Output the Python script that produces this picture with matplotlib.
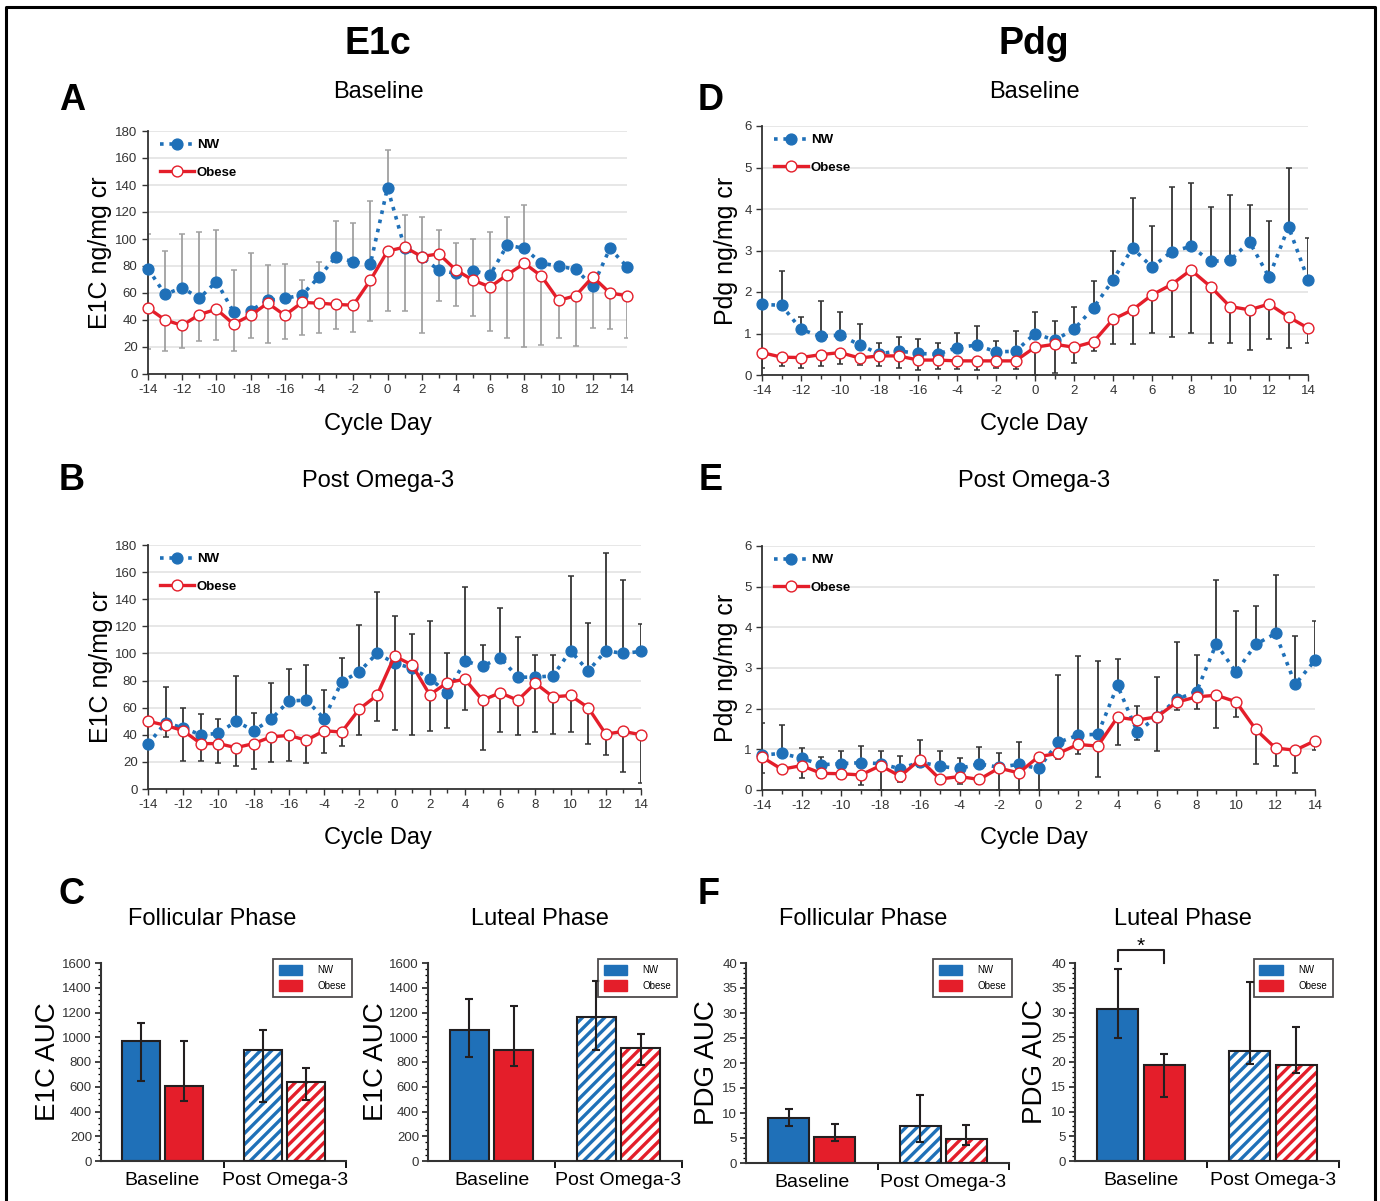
import matplotlib
matplotlib.use("Agg")
import matplotlib.pyplot as plt
import numpy as np
from matplotlib.lines import Line2D
from matplotlib.patches import Patch
from matplotlib.ticker import MultipleLocator

plt.rcParams["font.family"] = ["Liberation Sans", "DejaVu Sans"]
plt.rcParams["hatch.linewidth"] = 2.4

BLUE = "#1f70b8"
RED = "#e41e2a"
DARK = "#231f20"
W, H = 1380, 1201

DAYS = list(range(-14, 15))
DAY_TICKS = list(range(-14, 15, 2))
# the original figure mislabels -8 / -6 as -18 / -16
DAY_LABELS = ["-14", "-12", "-10", "-18", "-16", "-4", "-2", "0",
              "2", "4", "6", "8", "10", "12", "14"]

# A: E1c baseline (NW error ends point up, obese error ends point down)
e1c_base_nw = [78, 59, 64, 56, 68.5, 46, 47, 54.5, 56, 58.5, 72, 87, 83, 81.5, 138,
               93.5, 86.5, 77, 74.5, 76.5, 73.5, 95.5, 93, 82, 80, 77.5, 65, 93, 79.5]
e1c_base_nw_top = [104, 91, 104, 105.5, 106.5, 77, 89.5, 81, 81.5, 69.5, 83, 113.5, 112, 128.5, 166,
                   117.5, 116, 106.5, 97, 100, 105, 116.5, 125, None, None, None, None, None, None]
e1c_base_ob = [49, 40, 36, 44, 48, 37, 43.5, 52.5, 43.5, 53, 52.5, 51.5, 51, 69.5, 91,
               94, 87, 89, 77, 69.5, 64.5, 73.5, 82, 72.5, 54.5, 58, 72, 60, 58]
e1c_base_ob_bot = [18.5, 16.7, 19, 24.5, 25.5, 17.2, 26.5, 23.3, 25.8, 28.7, 30.2, 33, 31, 39.3, 47,
                   47, 30.7, 54.3, 50.6, 42.7, 32.2, 26.3, 20, 21.4, 26.3, 20.4, 33.8, 33.6, 27]

# B: E1c post omega-3
e1c_post_nw = [33, 49, 45, 40, 41, 50, 43, 51.5, 65, 65.5, 52, 79, 86.5, 100, 93,
               89, 81.5, 71, 94.5, 90.5, 97, 82.5, 82.5, 83.5, 102, 87, 102, 100, 101.5]
e1c_post_nw_top = [None, 75.5, 60, 55.5, 51.5, 83, 56, 78, 88.5, 91.5, 73, 96.5, 121, 145, 127.5,
                   114, 124, 100, 149, 106.5, 133.5, 112.5, 99, 98.5, 157.5, 122.5, 174, 154, 121.5]
e1c_post_ob = [50, 47, 43, 33.5, 33.5, 30.5, 33.5, 38.5, 39.5, 36, 43, 42, 59, 69, 98,
               91.5, 69.5, 78.5, 81, 65.5, 71, 65.5, 78, 68, 69, 60, 40.5, 42.5, 40]
e1c_post_ob_bot = [None, 38.3, 20.4, 20.4, 19, 16.7, 14.5, 20, 21, 19, 26.7, 31.5, 40, 50.3, 43.5,
                   40, 42.5, 45, 58, 28.7, 42, 39.7, 42, 40.7, 41.7, 33, 25, 12.3, 4.2]

# D: Pdg baseline
pdg_base_nw = [1.7, 1.68, 1.1, 0.93, 0.96, 0.73, 0.51, 0.58, 0.52, 0.5, 0.66, 0.72, 0.56, 0.57, 1.0,
               0.84, 1.1, 1.62, 2.29, 3.06, 2.6, 2.97, 3.1, 2.74, 2.76, 3.21, 2.36, 3.57, 2.3]
pdg_base_nw_top = [None, 2.51, 1.39, 1.78, 1.52, 1.22, 0.76, 0.91, 0.86, 0.78, 1.01, 1.17, 0.82, 1.05, 1.51,
                   1.29, 1.63, 2.27, 2.99, 4.26, 3.59, 4.53, 4.62, 4.06, 4.33, 4.1, 3.7, 5.0, 3.3]
pdg_base_ob = [0.54, 0.43, 0.42, 0.49, 0.54, 0.41, 0.46, 0.46, 0.36, 0.36, 0.34, 0.34, 0.34, 0.34, 0.67,
               0.74, 0.67, 0.8, 1.34, 1.57, 1.93, 2.18, 2.53, 2.13, 1.65, 1.57, 1.71, 1.4, 1.13]
pdg_base_ob_bot = [0.18, 0.21, 0.16, 0.21, 0.26, 0.24, 0.21, 0.18, 0.11, 0.14, 0.15, 0.13, 0.16, 0.15, 0.0,
                   0.06, 0.3, 0.58, 0.74, 0.75, 1.01, 0.92, 1.02, 0.78, 0.76, 0.6, 0.86, 0.65, 0.78]

# E: Pdg post omega-3
pdg_post_nw = [0.86, 0.9, 0.78, 0.62, 0.65, 0.67, 0.65, 0.52, 0.69, 0.58, 0.53, 0.64, 0.56, 0.63, 0.53,
               1.17, 1.35, 1.37, 2.57, 1.43, 1.8, 2.23, 2.42, 3.59, 2.9, 3.58, 3.85, 2.6, 3.19]
pdg_post_nw_top = [1.64, 1.59, 1.04, 0.8, 0.95, 1.07, 0.97, 0.83, 1.22, 0.97, 0.78, 1.06, 0.92, 1.17, None,
                   2.84, 3.29, 3.17, 3.22, 2.07, 2.77, 3.65, 3.33, 5.16, 4.39, 4.53, 5.28, 3.79, 4.16]
pdg_post_ob = [0.81, 0.51, 0.6, 0.41, 0.4, 0.37, 0.6, 0.34, 0.75, 0.27, 0.33, 0.26, 0.54, 0.42, 0.82,
               0.9, 1.12, 1.08, 1.79, 1.72, 1.8, 2.16, 2.29, 2.33, 2.17, 1.49, 1.03, 0.98, 1.21]
pdg_post_ob_bot = [0.43, 0.49, 0.29, 0.29, 0.27, 0.13, 0.0, 0.2, 0.56, 0.15, 0.15, 0.14, 0.0, 0.0, 0.0,
                   0.76, 0.88, 0.32, 1.1, 1.22, 0.96, 1.96, 1.99, 1.52, 1.8, 0.65, 0.59, 0.42, 0.99]

# C / F: AUC bars, [Baseline, Post Omega-3]
GROUPS = ["Baseline", "Post Omega-3"]
e1c_fol_nw, e1c_fol_nw_lo, e1c_fol_nw_hi = [970, 901], [648, 479], [1119, 1062]
e1c_fol_ob, e1c_fol_ob_lo, e1c_fol_ob_hi = [610, 637], [484, 489], [968, 750]
e1c_lut_nw, e1c_lut_nw_lo, e1c_lut_nw_hi = [1057, 1162], [839, 898], [1307, 1452]
e1c_lut_ob, e1c_lut_ob_lo, e1c_lut_ob_hi = [898, 917], [769, 777], [1253, 1030]
pdg_fol_nw, pdg_fol_nw_lo, pdg_fol_nw_hi = [9.0, 7.5], [7.5, 4.3], [10.9, 13.7]
pdg_fol_ob, pdg_fol_ob_lo, pdg_fol_ob_hi = [5.3, 4.9], [4.5, 3.6], [7.8, 7.7]
pdg_lut_nw, pdg_lut_nw_lo, pdg_lut_nw_hi = [30.7, 22.3], [24.8, 19.6], [38.7, 36.2]
pdg_lut_ob, pdg_lut_ob_lo, pdg_lut_ob_hi = [19.3, 19.4], [13.0, 17.7], [21.6, 27.1]


def px_axes(fig, left, top, right, bottom):
    return fig.add_axes([left / W, 1 - bottom / H, (right - left) / W, (bottom - top) / H])


def px_text(fig, x, y, s, **kw):
    fig.text(x / W, 1 - y / H, s, ha="center", va="center", **kw)


def place_ylabel(ax, text, size, center_px):
    # ylabel anchor sits on the right edge of the rotated text; shift from glyph centre
    ax.set_ylabel(text, fontsize=size)
    pos = ax.get_position()
    anchor = center_px + 0.42 * size * 100 / 72
    ax.yaxis.set_label_coords((anchor / W - pos.x0) / pos.width, 0.5)


def one_sided_errors(ax, values, ends, color):
    v = np.array(values, float)
    e = np.array([np.nan if x is None else x for x in ends], float)
    ok = ~np.isnan(e)
    lo = np.clip(v[ok] - e[ok], 0, None)
    hi = np.clip(e[ok] - v[ok], 0, None)
    ax.errorbar(np.array(DAYS)[ok], v[ok], yerr=[lo, hi], fmt="none", ecolor=color,
                elinewidth=1.3, capsize=2.5, capthick=1.1, zorder=1)


def line_panel(ax, nw, nw_top, ob, ob_bot, ymax, ystep, err_color, ylabel, label_px):
    one_sided_errors(ax, nw, nw_top, err_color)
    one_sided_errors(ax, ob, ob_bot, err_color)
    ax.plot(DAYS, nw, color=BLUE, linestyle=(0, (1, 1.6)), lw=2.6, marker="o", ms=7.8,
            mfc=BLUE, mec=BLUE, zorder=3, label="NW", clip_on=False)
    ax.plot(DAYS, ob, color=RED, lw=2.4, marker="o", ms=7.8, mfc="white", mec=RED,
            mew=1.0, zorder=4, label="Obese", clip_on=False)
    ax.set_xlim(-14, 14)
    ax.set_ylim(0, ymax)
    ax.set_xticks(DAY_TICKS)
    ax.set_xticklabels(DAY_LABELS)
    ax.xaxis.set_minor_locator(MultipleLocator(1))
    ax.yaxis.set_major_locator(MultipleLocator(ystep))
    ax.tick_params(axis="both", labelsize=9.5, colors="#333333", length=4, width=1)
    ax.tick_params(axis="x", which="minor", length=3, width=1, color="#333333")
    ax.grid(axis="y", color="#e3e3e3", lw=1.2)
    ax.set_axisbelow(True)
    for side in ("top", "right"):
        ax.spines[side].set_visible(False)
    for side in ("left", "bottom"):
        ax.spines[side].set_color("#333333")
        ax.spines[side].set_linewidth(1.3)
    place_ylabel(ax, ylabel, 18, label_px)
    ax.legend(loc="upper left", bbox_to_anchor=(0.0, 1.015), frameon=False,
              handlelength=2.6, labelspacing=1.15, prop={"weight": "bold", "size": 9.5},
              handletextpad=0.2)


def bar_panel(ax, nw, nw_lo, nw_hi, ob, ob_lo, ob_hi, ymax, major, minor, ylabel, label_px, leg_x):
    x = np.arange(len(GROUPS))
    w, off = 0.31, 0.175
    for i in x:
        for val, lo, hi, color, pos in ((nw[i], nw_lo[i], nw_hi[i], BLUE, i - off),
                                        (ob[i], ob_lo[i], ob_hi[i], RED, i + off)):
            if i == 0:
                ax.bar(pos, val, w, color=color, edgecolor=DARK, lw=1.5, zorder=2)
            else:
                ax.bar(pos, val, w, color="white", edgecolor=color, hatch="///", lw=0, zorder=2)
                ax.bar(pos, val, w, fill=False, edgecolor=DARK, lw=1.5, zorder=3)
            ax.errorbar(pos, val, yerr=[[val - lo], [hi - val]], fmt="none", ecolor=DARK,
                        elinewidth=1.5, capsize=3, capthick=1.5, zorder=4)
    ax.set_xlim(-0.5, 1.5)
    ax.set_ylim(0, ymax)
    ax.set_xticks([0.5, 1.5])
    ax.set_xticklabels([])
    ax.set_xticks(x, minor=True)
    ax.set_xticklabels(GROUPS, minor=True, fontsize=14)
    ax.tick_params(axis="x", which="minor", length=0, pad=8)
    ax.tick_params(axis="x", which="major", length=5, width=1.3)
    ax.yaxis.set_major_locator(MultipleLocator(major))
    ax.yaxis.set_minor_locator(MultipleLocator(minor))
    ax.tick_params(axis="y", labelsize=9.5, length=4, width=1.3, colors="#333333", pad=2.5)
    ax.tick_params(axis="y", which="minor", length=2.5, width=0.9)
    for side in ("top", "right"):
        ax.spines[side].set_visible(False)
    for side in ("left", "bottom"):
        ax.spines[side].set_color("#333333")
        ax.spines[side].set_linewidth(1.5)
    place_ylabel(ax, ylabel, 20, label_px)
    handles = [Patch(facecolor=BLUE, edgecolor=BLUE), Patch(facecolor=RED, edgecolor=RED)]
    leg = ax.legend(handles, ["NW", "Obese"], loc="upper right", bbox_to_anchor=(leg_x, 1.045),
                    fontsize=7, frameon=True, fancybox=False, edgecolor=DARK,
                    handlelength=2.4, handleheight=1.3, borderpad=0.6, labelspacing=0.5,
                    handletextpad=1.6)
    leg.get_frame().set_linewidth(1.3)


fig = plt.figure(figsize=(13.8, 12.01), dpi=100)

ax_a = px_axes(fig, 148, 131, 627, 374)
line_panel(ax_a, e1c_base_nw, e1c_base_nw_top, e1c_base_ob, e1c_base_ob_bot,
           180, 20, "#a0a0a0", "E1C ng/mg cr", 102)
ax_b = px_axes(fig, 148, 545, 641, 789)
line_panel(ax_b, e1c_post_nw, e1c_post_nw_top, e1c_post_ob, e1c_post_ob_bot,
           180, 20, "#333333", "E1C ng/mg cr", 102)
ax_d = px_axes(fig, 762, 126, 1308, 375)
line_panel(ax_d, pdg_base_nw, pdg_base_nw_top, pdg_base_ob, pdg_base_ob_bot,
           6, 1, "#333333", "Pdg ng/mg cr", 728)
ax_e = px_axes(fig, 762, 546, 1315, 790)
line_panel(ax_e, pdg_post_nw, pdg_post_nw_top, pdg_post_ob, pdg_post_ob_bot,
           6, 1, "#333333", "Pdg ng/mg cr", 728)

ax_c1 = px_axes(fig, 101, 963, 346, 1161)
bar_panel(ax_c1, e1c_fol_nw, e1c_fol_nw_lo, e1c_fol_nw_hi, e1c_fol_ob, e1c_fol_ob_lo, e1c_fol_ob_hi,
          1600, 200, 50, "E1C AUC", 49, 1.045)
ax_c2 = px_axes(fig, 428, 963, 682, 1161)
bar_panel(ax_c2, e1c_lut_nw, e1c_lut_nw_lo, e1c_lut_nw_hi, e1c_lut_ob, e1c_lut_ob_lo, e1c_lut_ob_hi,
          1600, 200, 50, "E1C AUC", 377, 1.0)
ax_f1 = px_axes(fig, 746, 963, 1009, 1163)
bar_panel(ax_f1, pdg_fol_nw, pdg_fol_nw_lo, pdg_fol_nw_hi, pdg_fol_ob, pdg_fol_ob_lo, pdg_fol_ob_hi,
          40, 5, 1, "PDG AUC", 708, 1.03)
ax_f2 = px_axes(fig, 1075, 963, 1339, 1161)
bar_panel(ax_f2, pdg_lut_nw, pdg_lut_nw_lo, pdg_lut_nw_hi, pdg_lut_ob, pdg_lut_ob_lo, pdg_lut_ob_hi,
          40, 5, 1, "PDG AUC", 1036, 0.995)

# significance bracket, Luteal Pdg baseline
ax_f2.plot([-0.175, -0.175, 0.175, 0.175], [40.5, 42.7, 42.7, 40.0], color=DARK, lw=1.5,
           clip_on=False)
ax_f2.text(0, 43.4, "*", ha="center", va="center", fontsize=15, clip_on=False)

# headings, subtitles, axis captions and panel letters
px_text(fig, 378, 44, "E1c", fontsize=27, weight="bold")
px_text(fig, 1034, 44, "Pdg", fontsize=27, weight="bold")
for cx in (378, 1034):
    px_text(fig, cx, 92, "Baseline", fontsize=17)
    px_text(fig, cx, 481, "Post Omega-3", fontsize=17)
    px_text(fig, cx, 424, "Cycle Day", fontsize=17)
    px_text(fig, cx, 838, "Cycle Day", fontsize=17)
for cx, title in ((212, "Follicular Phase"), (540, "Luteal Phase"),
                  (863, "Follicular Phase"), (1183, "Luteal Phase")):
    px_text(fig, cx, 919, title, fontsize=17)
for letter, px, py in (("A", 72, 101), ("D", 711, 101), ("B", 72, 480),
                       ("E", 711, 480), ("C", 72, 895), ("F", 709, 895)):
    px_text(fig, px, py, letter, fontsize=26, weight="bold")

# outer frame (open at the bottom, as in the source image)
fig.add_artist(Line2D([6 / W, 6 / W, 1375 / W, 1375 / W],
                      [0, 1 - 7 / H, 1 - 7 / H, 0], color="black", lw=2.2,
                      transform=fig.transFigure))

fig.savefig("out.png", dpi=100)
